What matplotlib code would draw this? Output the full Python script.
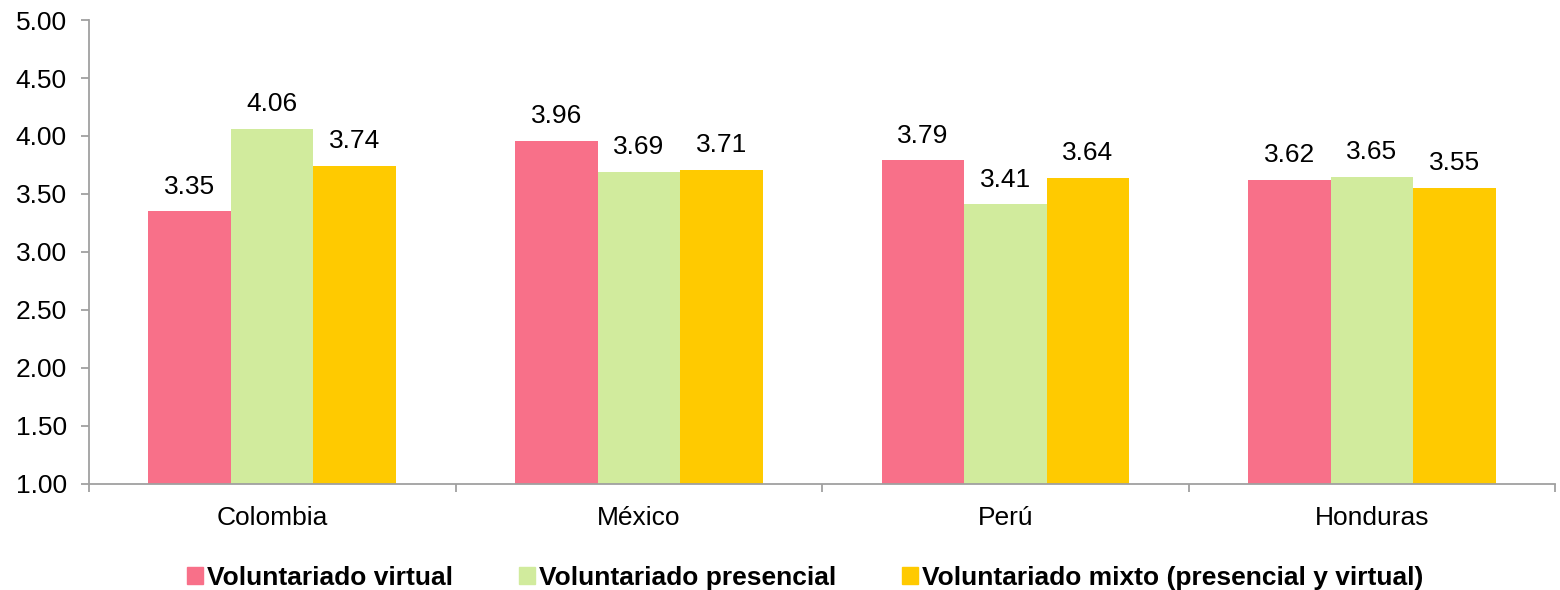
import numpy as np
import matplotlib.pyplot as plt
from matplotlib.patches import Patch

# datos
paises = ["Colombia", "México", "Perú", "Honduras"]
virtual = [3.35, 3.96, 3.79, 3.62]
presencial = [4.06, 3.69, 3.41, 3.65]
mixto = [3.74, 3.71, 3.64, 3.55]
series_nombres = ["Voluntariado virtual", "Voluntariado presencial",
                  "Voluntariado mixto (presencial y virtual)"]
colores = ["#F87089", "#D1EB9D", "#FFCA00"]

plt.rcParams["font.family"] = ["Liberation Sans", "DejaVu Sans"]

fig = plt.figure(figsize=(15.6, 5.9), dpi=100)
ax = fig.add_axes([0.057, 0.18, 0.94, 0.786])

x = np.arange(len(paises))
ancho = 0.225
for i, (vals, col) in enumerate(zip([virtual, presencial, mixto], colores)):
    pos = x + (i - 1) * ancho
    ax.bar(pos, np.array(vals) - 1.0, ancho, bottom=1.0, color=col)
    for p, v in zip(pos, vals):
        ax.text(p, v + 0.11, f"{v:.2f}", ha="center", va="bottom", fontsize=19)

ax.set_ylim(1.0, 5.0)
ax.set_yticks(np.arange(1.0, 5.01, 0.5))
ax.set_yticklabels([f"{t:.2f}" for t in np.arange(1.0, 5.01, 0.5)], fontsize=19)
ax.set_xlim(-0.5, len(paises) - 0.5)
ax.set_xticks(np.arange(-0.5, len(paises)), minor=False)
ax.set_xticklabels([])
ax.set_xticks(x, minor=True)
ax.set_xticklabels(paises, minor=True, fontsize=19)
ax.tick_params(axis="x", which="minor", length=0, pad=16)
ax.tick_params(axis="x", which="major", length=6, color="#A0A0A0", width=1.3)
ax.tick_params(axis="y", length=6, color="#A0A0A0", width=1.3, pad=10)

for s in ["top", "right"]:
    ax.spines[s].set_visible(False)
for s in ["left", "bottom"]:
    ax.spines[s].set_color("#A0A0A0")
    ax.spines[s].set_linewidth(1.3)

handles = [Patch(color=c) for c in colores]
fig.legend(handles, series_nombres, loc="lower center", bbox_to_anchor=(0.516, -0.04),
           ncol=3, frameon=False, handlelength=0.6, handleheight=0.6,
           handletextpad=0.15, columnspacing=2.5,
           prop={"weight": "bold", "size": 19})

fig.savefig("out.png", dpi=100)
